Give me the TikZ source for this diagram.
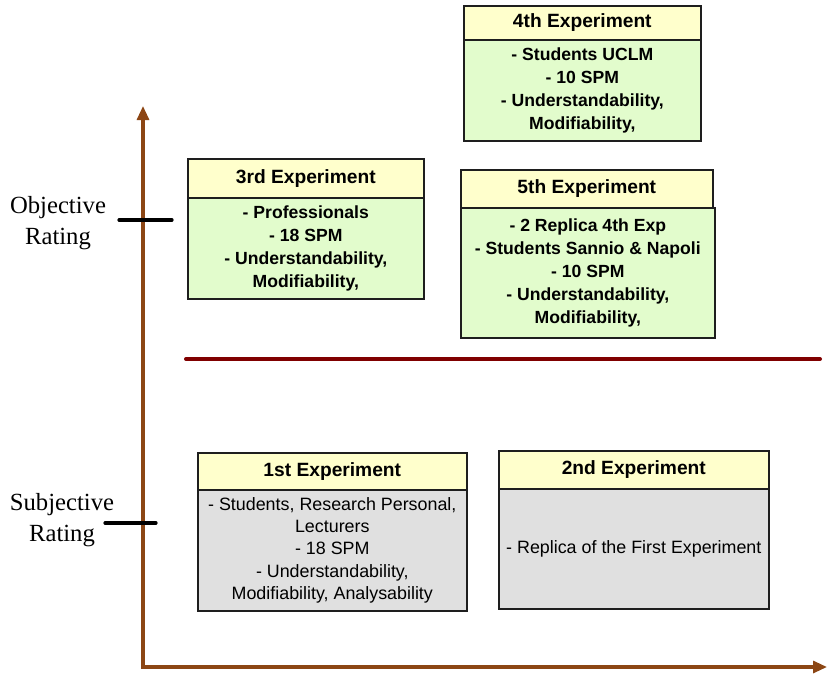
\documentclass[tikz,border=0pt]{standalone}
\usepackage{fontspec}
\setmainfont{Liberation Serif}
\newfontfamily\arial{Liberation Sans}
\usetikzlibrary{arrows.meta}
\definecolor{axisbrown}{RGB}{140,70,20}
\definecolor{splitred}{RGB}{128,0,0}
\definecolor{hdrfill}{RGB}{255,255,204}
\definecolor{greenfill}{RGB}{226,252,204}
\definecolor{grayfill}{RGB}{224,224,224}
\definecolor{edge}{RGB}{30,30,30}
\tikzset{
  boxbase/.style={draw=edge, line width=1.2pt, inner sep=0pt, align=center, text=black, anchor=north west},
  hdr/.style={boxbase, fill=hdrfill, font=\arial\bfseries\fontsize{14.4}{16}\selectfont},
  objbody/.style={boxbase, fill=greenfill, font=\arial\bfseries\fontsize{13.2}{17.2}\selectfont},
  subjbody/.style={boxbase, fill=grayfill, font=\arial\fontsize{13.4}{16.6}\selectfont},
  axisline/.style={axisbrown, line width=2.3pt, {Triangle[length=10.5pt,width=9pt]}-{Triangle[length=10.5pt,width=9pt]}},
  tickmark/.style={black, line width=2.4pt, line cap=round},
  ratinglabel/.style={align=center, font=\fontsize{18.5}{23.5}\selectfont, inner sep=0pt}
}
\begin{document}
\begin{tikzpicture}[x=0.75pt, y=-0.75pt]
\useasboundingbox (0,0) rectangle (828,674);

% axes
\coordinate (ytop) at (143,106);
\coordinate (origin) at (143,667);
\coordinate (xend) at (827,667);
\draw[axisline] (ytop) -- (origin) -- (xend);

% rating ticks and labels
\coordinate (objL) at (119,220);
\coordinate (objR) at (172,220);
\draw[tickmark] (objL) -- (objR);
\coordinate (subL) at (105,523);
\coordinate (subR) at (156,523);
\draw[tickmark] (subL) -- (subR);
\node[ratinglabel] (objlab) at (58,223) {Objective\\Rating};
\node[ratinglabel] (sublab) at (62,520) {Subjective\\Rating};

% separator between objective and subjective rating
\coordinate (sepL) at (186,359);
\coordinate (sepR) at (820,359);
\draw[splitred, line width=3pt, line cap=round] (sepL) -- (sepR);

% 4th experiment
\node[hdr, minimum width=177.75pt, minimum height=25.5pt] (h4) at (463,5) {4th Experiment};
\node[objbody, minimum width=177.75pt, minimum height=75.75pt] (b4) at (463,39) {- Students UCLM\\- 10 SPM\\- Understandability,\\Modifiability,};

% 3rd experiment
\node[hdr, minimum width=177pt, minimum height=29.25pt] (h3) at (187,158) {3rd Experiment};
\node[objbody, minimum width=177pt, minimum height=75.75pt] (b3) at (187,197) {- Professionals\\- 18 SPM\\- Understandability,\\Modifiability,};

% 5th experiment
\node[hdr, minimum width=189pt, minimum height=28.5pt] (h5) at (460,169) {5th Experiment};
\node[objbody, minimum width=190.5pt, minimum height=97.5pt] (b5) at (460,207) {- 2 Replica 4th Exp\\- Students Sannio \& Napoli\\- 10 SPM\\- Understandability,\\Modifiability,};

% 1st experiment
\node[hdr, minimum width=201.75pt, minimum height=27.75pt] (h1) at (197,452) {1st Experiment};
\node[subjbody, minimum width=201.75pt, minimum height=90.75pt] (b1) at (197,489) {- Students, Research Personal,\\Lecturers\\- 18 SPM\\- Understandability,\\Modifiability, Analysability};

% 2nd experiment
\node[hdr, minimum width=202.5pt, minimum height=28.5pt] (h2) at (498,450) {2nd Experiment};
\node[subjbody, minimum width=202.5pt, minimum height=90pt] (b2) at (498,488) {- Replica of the First Experiment};
\end{tikzpicture}
\end{document}
